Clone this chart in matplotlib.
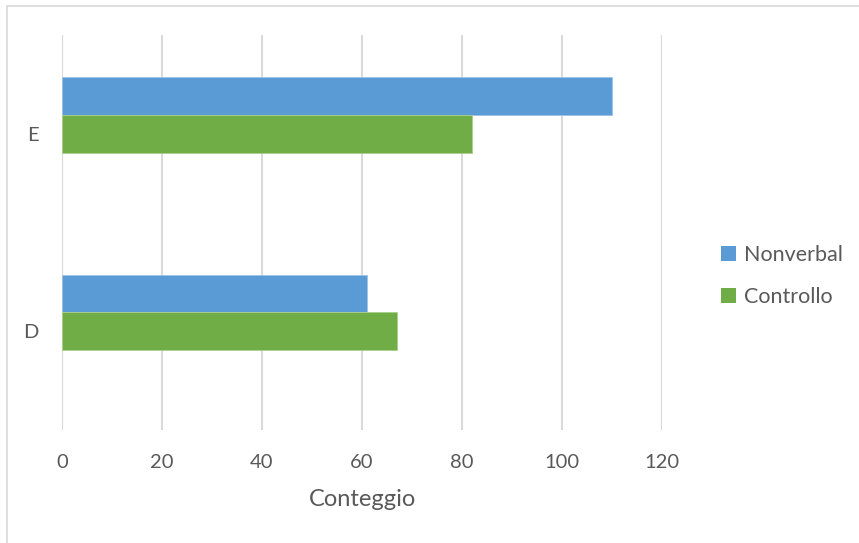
import numpy as np
import matplotlib.pyplot as plt
from matplotlib.patches import Rectangle, Patch

# Data
categories = ['D', 'E']
nonverbal = [61, 110]
controllo = [67, 82]
series_names = ['Nonverbal', 'Controllo']
xticks = [0, 20, 40, 60, 80, 100, 120]

text_col = '#595959'
grid_col = '#D9D9D9'
blue = '#5B9BD5'
green = '#70AD47'

plt.rcParams['font.family'] = ['Lato', 'DejaVu Sans']

W, H = 859, 543
fig = plt.figure(figsize=(W / 100, H / 100), dpi=100)

# chart border (light gray frame)
fig.patches.append(Rectangle((7 / W, -0.1), 1.2, 1 - 6 / H + 0.1, transform=fig.transFigure,
                             fill=False, edgecolor='#D9D9D9', linewidth=1.2))

# axes placed in pixel coordinates
left, right, top, bottom = 62, 662, 35, 430
ax = fig.add_axes([left / W, 1 - bottom / H, (right - left) / W, (bottom - top) / H])

y = np.arange(len(categories))
h = 0.19
ax.barh(y + h, nonverbal, height=h, color=blue, edgecolor='#9DC3E6', linewidth=0.6, label=series_names[0], zorder=3)
ax.barh(y, controllo, height=h, color=green, edgecolor='#A9D18E', linewidth=0.6, label=series_names[1], zorder=3)

ax.set_xlim(0, 120)
ax.set_ylim(-0.5, 1.5)
ax.set_xticks(xticks)
ax.set_xticklabels([str(t) for t in xticks])
ax.set_yticks(y)
ax.set_yticklabels(categories)
ax.tick_params(axis='both', length=0, labelsize=14.5, colors=text_col)
ax.tick_params(axis='x', pad=17)
ax.tick_params(axis='y', pad=17)
ax.grid(axis='x', color=grid_col, linewidth=1.5, zorder=0)
for s in ax.spines.values():
    s.set_visible(False)
ax.set_xlabel('Conteggio', fontsize=17, color=text_col, labelpad=13)

handles = [Patch(facecolor=blue, edgecolor='none'), Patch(facecolor=green, edgecolor='none')]
fig.legend(handles, series_names, loc='center left', bbox_to_anchor=(702 / W, 1 - 276 / H),
           frameon=False, fontsize=15.5, labelcolor=text_col, handlelength=0.7, handleheight=0.7,
           handletextpad=0.35, labelspacing=1.05)

fig.savefig('out.png', dpi=100)
